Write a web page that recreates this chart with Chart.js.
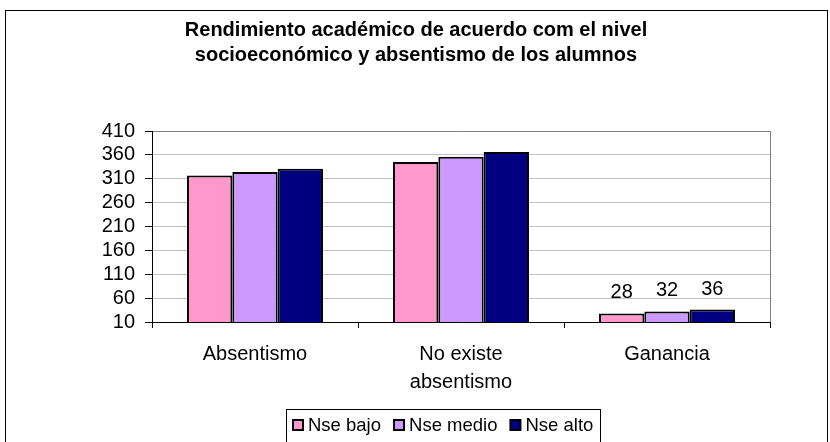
<!DOCTYPE html>
<html>
<head>
<meta charset="utf-8">
<script src="https://cdn.jsdelivr.net/npm/chart.js@4/dist/chart.umd.min.js"></script>
<style>
  html, body { margin: 0; padding: 0; background: #fff; }
  #wrap { width: 830px; height: 442px; }
</style>
</head>
<body>
<div id="wrap"><canvas id="chart" width="830" height="442"></canvas></div>
<script>
// Data
const categories = ['Absentismo', ['No existe', 'absentismo'], 'Ganancia'];
const seriesNames = ['Nse bajo', 'Nse medio', 'Nse alto'];
const nseBajo = [317, 345, 28];
const nseMedio = [324, 356, 32];
const nseAlto = [331, 366, 36];
const yTicks = [10, 60, 110, 160, 210, 260, 310, 360, 410];
const labelledCategory = 2; // only "Ganancia" carries value labels

const colors = ['#FF99CC', '#CC99FF', '#000080'];
const fontFamily = '"Liberation Sans", Arial, sans-serif';

// Outer frame, plot-area right border, boxed legend and value labels
const decorPlugin = {
    id: 'decor',
    afterDraw(chart) {
        const ctx = chart.ctx;
        const area = chart.chartArea;
        ctx.save();

        // outer frame
        ctx.strokeStyle = '#000';
        ctx.lineWidth = 1;
        ctx.strokeRect(5.5, 10.5, 822, 440);

        // plot area right border
        ctx.strokeStyle = '#808080';
        ctx.beginPath();
        ctx.moveTo(Math.round(area.right) + 0.5, area.top);
        ctx.lineTo(Math.round(area.right) + 0.5, area.bottom);
        ctx.stroke();

        // value labels
        ctx.fillStyle = '#000';
        ctx.font = '20px ' + fontFamily;
        ctx.textAlign = 'center';
        ctx.textBaseline = 'alphabetic';
        chart.data.datasets.forEach((ds, i) => {
            const bar = chart.getDatasetMeta(i).data[labelledCategory];
            if (!bar) return;
            ctx.fillText(String(ds.data[labelledCategory]), bar.x, bar.y - 15);
        });

        // legend with frame
        const fontSize = 18.5;
        ctx.font = fontSize + 'px ' + fontFamily;
        const sq = 10, gapAfterBox = 5, gapItems = 13, pad = 7;
        const items = chart.data.datasets.map(ds => ({
            label: ds.label, color: ds.backgroundColor, w: ctx.measureText(ds.label).width
        }));
        let total = pad * 2;
        items.forEach((it, i) => {
            total += sq + gapAfterBox + it.w + (i < items.length - 1 ? gapItems : 0);
        });
        const bx = 286, cy = 425;
        ctx.strokeStyle = '#000';
        ctx.lineWidth = 1;
        ctx.fillStyle = '#fff';
        ctx.fillRect(bx, 409, Math.round(total), 33);
        ctx.strokeRect(bx + 0.5, 409.5, Math.round(total), 33);
        let x = bx + pad;
        ctx.textAlign = 'left';
        ctx.textBaseline = 'middle';
        items.forEach(it => {
            ctx.fillStyle = it.color;
            ctx.fillRect(x, cy - sq / 2, sq, sq);
            ctx.lineWidth = 2;
            ctx.strokeStyle = '#000';
            ctx.strokeRect(x, cy - sq / 2, sq, sq);
            x += sq + gapAfterBox;
            ctx.fillStyle = '#000';
            ctx.fillText(it.label, x, cy + 1);
            x += it.w + gapItems;
        });
        ctx.restore();
    }
};

const datasets = [nseBajo, nseMedio, nseAlto].map((values, i) => ({
    label: seriesNames[i],
    data: values,
    backgroundColor: colors[i],
    borderColor: '#000',
    borderWidth: 2,
    borderSkipped: false,
    categoryPercentage: 0.66,
    barPercentage: 1.0
}));

new Chart(document.getElementById('chart'), {
    type: 'bar',
    data: { labels: categories, datasets: datasets },
    options: {
        responsive: false,
        animation: false,
        layout: { padding: { top: 0, left: 62, right: 60, bottom: 34 } },
        plugins: {
            title: {
                display: true,
                text: ['Rendimiento académico de acuerdo com el nivel',
                       'socioeconómico y absentismo de los alumnos'],
                color: '#000',
                font: { family: fontFamily, size: 20, weight: 'bold', lineHeight: 1.25 },
                padding: { top: 18, bottom: 63 }
            },
            legend: { display: false },
            tooltip: { enabled: false }
        },
        scales: {
            x: {
                grid: {
                    offset: true,
                    drawOnChartArea: false,
                    color: '#000',
                    tickLength: 6
                },
                border: { color: '#000', width: 1 },
                ticks: {
                    color: '#000',
                    font: { family: fontFamily, size: 20, lineHeight: 1.4 },
                    padding: 12,
                    maxRotation: 0
                }
            },
            y: {
                min: 10,
                max: 410,
                afterBuildTicks(axis) {
                    axis.ticks = yTicks.map(v => ({ value: v }));
                },
                afterFit(axis) {
                    axis.width = 90;
                },
                grid: {
                    color: ctx => ctx.tick && ctx.tick.value === 410 ? '#808080' : '#c0c0c0',
                    tickColor: '#000',
                    tickLength: 7
                },
                border: { color: '#000', width: 1 },
                ticks: {
                    color: '#000',
                    font: { family: fontFamily, size: 20 },
                    padding: 10,
                    autoSkip: false
                }
            }
        }
    },
    plugins: [decorPlugin]
});
</script>
</body>
</html>
